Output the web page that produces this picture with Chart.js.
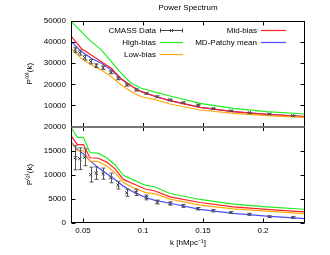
<!DOCTYPE html>
<html><head><meta charset="utf-8">
<script src="https://cdn.jsdelivr.net/npm/chart.js@4.4.1/dist/chart.umd.min.js"></script>
<style>html,body{margin:0;padding:0;background:#fff;overflow:hidden}#wrap{width:330px;height:255px;position:relative}</style>
</head><body><div id="wrap"><canvas id="c" width="330" height="255"></canvas></div>
<script>
// ---- data ----
const chartTitle = 'Power Spectrum';
const kData = [0.0436,0.0473,0.0514,0.0564,0.0611,0.0667,0.0731,0.0792,0.0864,0.0944,0.1028,0.1119,0.1225,0.1336,0.1456,0.1586,0.1731,0.1886,0.2053,0.2248];
const p0Data = [36300,35000,32600,30700,28800,27900,25700,22800,19700,17300,15700,14100,12600,11300,10100,8500,7400,6500,5900,5100];
const p0Err = [1300,1200,1100,1000,900,800,700,600,500,450,400,350,300,280,250,220,200,180,160,140];
const p2Data = [13500,13300,13600,10000,10300,10200,9300,7800,6200,6300,5250,4300,4000,3500,2900,2500,2100,1750,1250,1100];
const p2Err = [2500,2250,1750,1550,1300,1150,1000,800,700,650,500,400,350,300,250,220,200,180,160,150];

const kModelP0 = [0.040,0.0486,0.0569,0.0653,0.0736,0.0819,0.0903,0.0986,0.1111,0.1225,0.1475,0.1753,0.2031,0.235];
const p0High = [50000,45000,40200,36300,30700,25200,20500,18100,16200,14450,11000,8630,7010,5920];
const p0Mid = [42800,37000,33900,30700,27600,22600,19200,16500,14100,12230,9100,7010,5780,4650];
const p0Low = [37000,32300,29100,26800,23600,19700,16500,14100,12600,10660,7820,6260,5120,4360];
const p0Patchy = [40500,35500,32300,30000,26800,22400,19200,16500,14100,12230,9100,7010,5780,4650];

const kModelP2 = [0.0400,0.0453,0.0503,0.0558,0.0628,0.0698,0.0767,0.0836,0.0919,0.1017,0.1100,0.1225,0.1475,0.1753,0.2031,0.235];
const p2High = [19800,17750,17750,14600,14400,13500,12000,9850,8900,7800,7430,6070,4830,3860,3300,2800];
const p2Mid = [18100,16250,16250,13500,13400,12600,11200,9000,8100,7000,6600,5370,4200,3300,2760,2250];
const p2Low = [16700,15000,15000,12800,12700,11800,10400,8330,7300,6300,6000,4890,3650,2890,2410,1900];
const p2Patchy = [16800,15300,14300,12900,11400,10200,9000,7600,6400,5300,4650,4050,2760,1940,1380,830];

const seriesNames = ['CMASS Data','High-bias','Low-bias','Mid-bias','MD-Patchy mean'];
const seriesColors = ['#444444','#22ee22','#ffaa11','#ff2020','#4d4dff'];
const xTitle = 'k [hMpc\u207B\u00B9]';
const y0Title = 'P\u207D\u2070\u207E(k)';
const y2Title = 'P\u207D\u00B2\u207E(k)';

const FONT = "'Liberation Sans', Arial, sans-serif";
const pts = (ks, vs) => ks.map((k, i) => ({x: k, y: vs[i]}));

function lineDs(label, ks, vs, color, axis) {
  return {type: 'scatter', label, data: pts(ks, vs), yAxisID: axis, showLine: true,
    borderColor: color, backgroundColor: color, borderWidth: 1.2, pointRadius: 0, tension: 0, order: 2};
}
function dataDs(vs, errs, axis) {
  return {type: 'scatter', label: seriesNames[0], data: pts(kData, vs), yAxisID: axis, showLine: false,
    pointStyle: 'crossRot', pointRadius: 2.2, borderColor: '#333', borderWidth: 1, errorBars: errs, order: 1};
}

const datasets = [
  lineDs(seriesNames[1], kModelP0, p0High, seriesColors[1], 'yP0'),
  lineDs(seriesNames[2], kModelP0, p0Low, seriesColors[2], 'yP0'),
  lineDs(seriesNames[3], kModelP0, p0Mid, seriesColors[3], 'yP0'),
  lineDs(seriesNames[4], kModelP0, p0Patchy, seriesColors[4], 'yP0'),
  dataDs(p0Data, p0Err, 'yP0'),
  lineDs(seriesNames[1], kModelP2, p2High, seriesColors[1], 'yP2'),
  lineDs(seriesNames[2], kModelP2, p2Low, seriesColors[2], 'yP2'),
  lineDs(seriesNames[3], kModelP2, p2Mid, seriesColors[3], 'yP2'),
  lineDs(seriesNames[4], kModelP2, p2Patchy, seriesColors[4], 'yP2'),
  dataDs(p2Data, p2Err, 'yP2'),
];

const gpPlugin = {
  id: 'gp',
  afterDatasetsDraw(chart) {
    const {ctx, scales} = chart;
    chart.data.datasets.forEach(ds => {
      if (!ds.errorBars) return;
      const ys = scales[ds.yAxisID];
      ctx.save(); ctx.strokeStyle = '#555'; ctx.lineWidth = 1;
      ds.data.forEach((p, j) => {
        const x = Math.round(scales.x.getPixelForValue(p.x)) + 0.5;
        const y1 = ys.getPixelForValue(p.y - ds.errorBars[j]);
        const y2 = ys.getPixelForValue(p.y + ds.errorBars[j]);
        ctx.beginPath();
        ctx.moveTo(x, y1); ctx.lineTo(x, y2);
        ctx.moveTo(x - 2, y1); ctx.lineTo(x + 2, y1);
        ctx.moveTo(x - 2, y2); ctx.lineTo(x + 2, y2);
        ctx.stroke();
      });
      ctx.restore();
    });
  },
  afterDraw(chart) {
    const {ctx, chartArea: a, scales} = chart;
    const L = Math.round(a.left) + 0.5, R = Math.round(a.right) - 0.5;
    const T = Math.round(a.top) + 0.5, B = Math.round(a.bottom) - 0.5;
    const mid = Math.round(scales.yP0.bottom);
    ctx.save();
    ctx.strokeStyle = '#000'; ctx.lineWidth = 1;
    ctx.strokeRect(L, T, R - L, B - T);
    // inward ticks
    ctx.beginPath();
    ['yP0', 'yP2'].forEach(id => {
      scales[id].ticks.forEach(t => {
        const y = Math.round(scales[id].getPixelForValue(t.value)) + 0.5;
        ctx.moveTo(L, y); ctx.lineTo(L + 4, y);
        ctx.moveTo(R, y); ctx.lineTo(R - 4, y);
      });
    });
    scales.x.ticks.forEach(t => {
      const x = Math.round(scales.x.getPixelForValue(t.value)) + 0.5;
      ctx.moveTo(x, T); ctx.lineTo(x, T + 4);
      ctx.moveTo(x, B); ctx.lineTo(x, B - 4);
      ctx.moveTo(x, mid - 4); ctx.lineTo(x, mid + 4);
    });
    ctx.stroke();
    // panel separator
    ctx.strokeStyle = '#777'; ctx.lineWidth = 2;
    ctx.beginPath(); ctx.moveTo(L, mid); ctx.lineTo(R, mid); ctx.stroke();
    // legend
    ctx.font = '8px ' + FONT; ctx.fillStyle = '#000';
    ctx.textAlign = 'right'; ctx.textBaseline = 'middle';
    const rows = [30.5, 42.5, 54.5];
    const items = [
      {i: 0, tx: 156, x0: 160, x1: 183, y: rows[0]},
      {i: 1, tx: 156, x0: 160, x1: 183, y: rows[1]},
      {i: 2, tx: 156, x0: 160, x1: 183, y: rows[2]},
      {i: 3, tx: 257, x0: 261, x1: 286, y: rows[0]},
      {i: 4, tx: 257, x0: 261, x1: 286, y: rows[1]},
    ];
    items.forEach(it => {
      ctx.fillText(seriesNames[it.i], it.tx, it.y);
      ctx.strokeStyle = seriesColors[it.i];
      ctx.lineWidth = it.i === 0 ? 1 : 1.2;
      ctx.beginPath(); ctx.moveTo(it.x0, it.y); ctx.lineTo(it.x1, it.y);
      if (it.i === 0) {
        ctx.moveTo(it.x0 + 0.5, it.y - 2); ctx.lineTo(it.x0 + 0.5, it.y + 2);
        ctx.moveTo(it.x1 - 0.5, it.y - 2); ctx.lineTo(it.x1 - 0.5, it.y + 2);
        const cx = (it.x0 + it.x1) / 2;
        ctx.moveTo(cx - 1.6, it.y - 1.6); ctx.lineTo(cx + 1.6, it.y + 1.6);
        ctx.moveTo(cx - 1.6, it.y + 1.6); ctx.lineTo(cx + 1.6, it.y - 1.6);
      }
      ctx.stroke();
    });
    ctx.restore();
  }
};

const tickFont = {family: FONT, size: 8};
const noGrid = {display: false, drawTicks: false, tickLength: 0};
new Chart(document.getElementById('c'), {
  type: 'scatter',
  data: {datasets},
  options: {
    responsive: false, animation: false, devicePixelRatio: 1,
    layout: {padding: {left: 0, right: 25, top: 0, bottom: 0}},
    plugins: {
      legend: {display: false}, tooltip: {enabled: false},
      title: {display: true, text: chartTitle, fullSize: false, color: '#000',
        font: {family: FONT, size: 8, weight: 'normal'}, padding: {top: 3, bottom: 8.4}}
    },
    scales: {
      x: {type: 'linear', position: 'bottom', min: 0.04, max: 0.235,
        grid: noGrid, border: {display: false},
        ticks: {stepSize: 0.05, includeBounds: false, color: '#000', font: tickFont, padding: 3,
          callback: v => String(Number(v.toFixed(4)))},
        title: {display: true, text: xTitle, color: '#000', font: tickFont, padding: {top: 0, bottom: 7.2}},
        afterFit: s => { s.height = 32.3; }
      },
      yP2: {type: 'linear', position: 'left', stack: 'pk', stackWeight: 96.2, min: 0, max: 20000,
        grid: noGrid, border: {display: false},
        ticks: {stepSize: 5000, color: '#000', font: tickFont, padding: 5, callback: v => String(v)},
        title: {display: true, text: y2Title, color: '#000', font: tickFont, padding: {top: 25.2, bottom: 0}},
        afterFit: s => { s.width = 71; }
      },
      yP0: {type: 'linear', position: 'left', stack: 'pk', stackWeight: 105.5, min: 0, max: 50000,
        grid: noGrid, border: {display: false},
        ticks: {stepSize: 10000, color: '#000', font: tickFont, padding: 5,
          callback: v => v === 0 ? '' : String(v)},
        title: {display: true, text: y0Title, color: '#000', font: tickFont, padding: {top: 25.2, bottom: 0}},
        afterFit: s => { s.width = 71; }
      }
    }
  },
  plugins: [gpPlugin]
});
</script>
</body></html>
